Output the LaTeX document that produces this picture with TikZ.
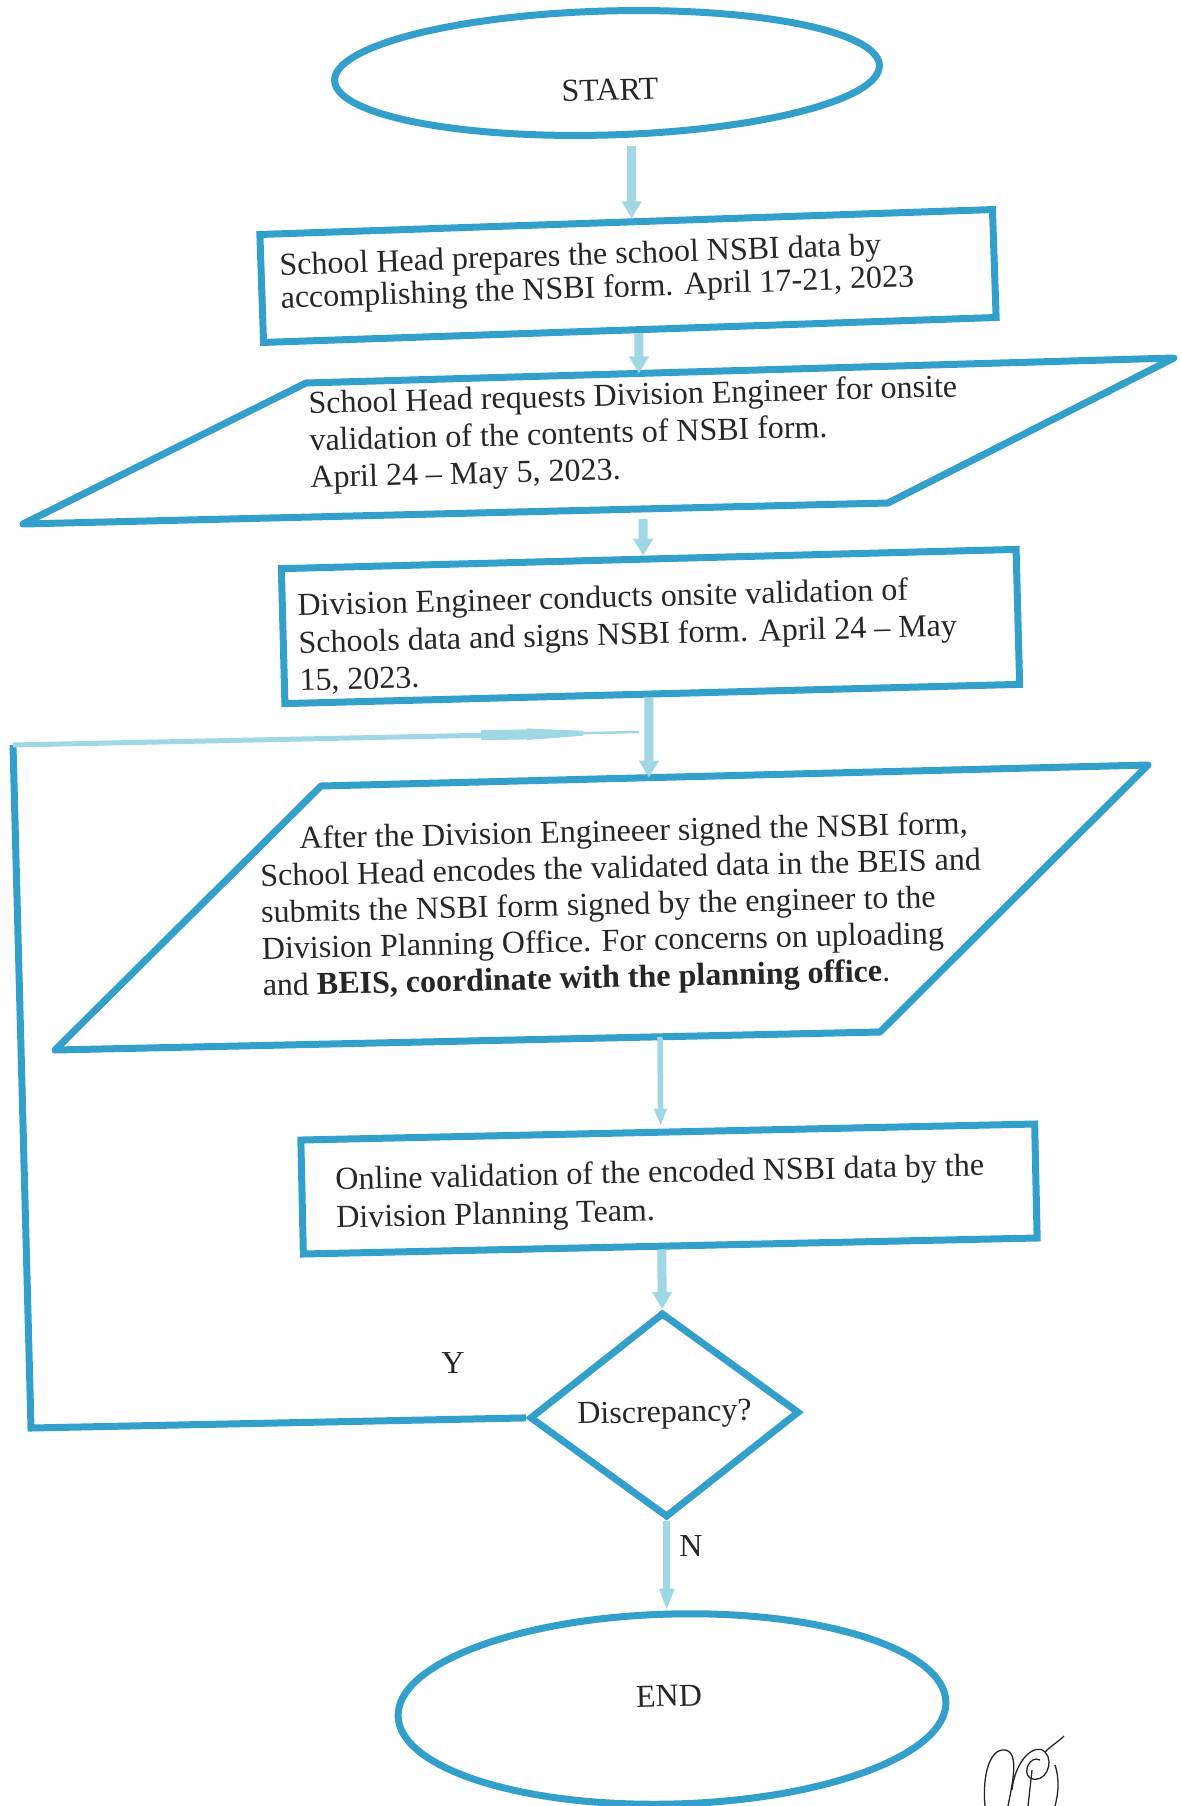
\documentclass[tikz,border=0pt]{standalone}
\usepackage{fontspec}
\setmainfont{Liberation Serif}
\usetikzlibrary{shapes.geometric,arrows.meta,calc}
\definecolor{bordc}{HTML}{33A0CC}
\definecolor{arrc}{HTML}{A0D7E4}
\definecolor{txtc}{HTML}{262626}
\begin{document}
\begin{tikzpicture}[x=1pt,y=-1pt,
  shapeline/.style={draw=bordc, line width=7pt},
  boxnode/.style={shapeline, rectangle, inner sep=0pt},
  txt/.style={text=txtc, font=\fontsize{32}{37}\selectfont, align=left, inner sep=0pt, anchor=north west},
  arr/.style={draw=arrc, line width=9pt, -{Triangle[length=17pt,width=19pt]}},
  thinarr/.style={draw=arrc, line width=5.5pt, -{Triangle[length=17pt,width=12pt]}},
  endarr/.style={draw=arrc, line width=6.5pt, -{Triangle[length=22pt,width=14pt]}},
  fbarr/.style={draw=arrc, line width=5pt, -{Triangle[length=112pt,width=10pt]}},
  fbband/.style={draw=arrc, line width=10pt},
  fbtail/.style={draw=arrc, line width=2.5pt},
  sig/.style={draw=black!85, line width=1.3pt}
]
\useasboundingbox[fill=white] (0,0) rectangle (1182,1806);

% START
\node[shapeline, ellipse, inner sep=0pt, minimum width=545pt, minimum height=124pt, rotate=1.6] (start) at (607,73) {};
\node[txt, anchor=center, rotate=1.6] (starttxt) at (610,90) {START};

% Box 1
\node[boxnode, minimum width=733pt, minimum height=108pt, rotate=1.95] (box1) at (628,276) {};
\node[txt, font=\fontsize{32}{33}\selectfont, rotate=1.95] (box1txt) at (279,253)
  {School Head prepares the school NSBI data by\\accomplishing the NSBI form. April 17-21, 2023};

% Parallelogram 1
\coordinate (p1tl) at (306,383);
\coordinate (p1tr) at (1174,358);
\coordinate (p1br) at (888,503);
\coordinate (p1bl) at (23,524);
\draw[shapeline, line join=round] (p1tl) -- (p1tr) -- (p1br) -- (p1bl) -- cycle;
\node[txt, rotate=1.5] (p1txt) at (308,391)
  {School Head requests Division Engineer for onsite\\validation of the contents of NSBI form.\\April 24 – May 5, 2023.};

% Box 3
\node[boxnode, minimum width=735pt, minimum height=135pt, rotate=1.5] (box3) at (650.5,626.5) {};
\node[txt, font=\fontsize{32}{37.5}\selectfont, rotate=1.5] (box3txt) at (297,593)
  {Division Engineer conducts onsite validation of\\Schools data and signs NSBI form. April 24 – May\\15, 2023.};

% Parallelogram 2
\coordinate (p2tl) at (321,786);
\coordinate (p2tr) at (1148,765);
\coordinate (p2br) at (880,1032);
\coordinate (p2bl) at (55,1050);
\draw[shapeline, line join=round] (p2tl) -- (p2tr) -- (p2br) -- (p2bl) -- cycle;
\node[txt, font=\fontsize{32}{36.5}\selectfont, rotate=1.3] (p2txt) at (259,827)
  {\hspace*{40pt}After the Division Engineeer signed the NSBI form,\\School Head encodes the validated data in the BEIS and\\submits the NSBI form signed by the engineer to the\\Division Planning Office. For concerns on uploading\\and \textbf{BEIS, coordinate with the planning office}.};

% Box 5
\node[boxnode, minimum width=734pt, minimum height=114pt, rotate=1.25] (box5) at (669,1189) {};
\node[txt, font=\fontsize{32}{38}\selectfont, rotate=1.25] (box5txt) at (335,1167)
  {Online validation of the encoded NSBI data by the\\Division Planning Team.};

% Decision
\node[shapeline, diamond, inner sep=0pt, minimum width=270pt, minimum height=205pt, rotate=1.2,
  text=txtc, font=\fontsize{32}{37}\selectfont] (dia) at (664.5,1415) {Discrepancy?};

% END
\node[shapeline, ellipse, inner sep=0pt, minimum width=548pt, minimum height=190pt, rotate=1.5] (end) at (672,1709) {};
\node[txt, anchor=center, rotate=1.5] (endtxt) at (669,1696) {END};

% labels
\node[txt, anchor=center] (ylab) at (453,1363) {Y};
\node[txt, anchor=center] (nlab) at (691,1546) {N};

% connector points
\coordinate (a1e) at ($(box1.north west)!0.5075!(box1.north east)$);
\coordinate (a2s) at ($(box1.south west)!0.512!(box1.south east)$);
\coordinate (p1n) at ($(p1tl)!0.3836!(p1tr)$);
\coordinate (p1s) at ($(p1bl)!0.7168!(p1br)$);
\coordinate (a3e) at ($(box3.north west)!0.4925!(box3.north east)$);
\coordinate (a4s) at ($(box3.south west)!0.4952!(box3.south east)$);
\coordinate (p2n) at ($(p2tl)!0.3966!(p2tr)$);
\coordinate (p2s) at ($(p2bl)!0.7333!(p2br)$);
\coordinate (a5e) at ($(box5.north west)!0.4905!(box5.north east)$);
\coordinate (a6s) at ($(box5.south west)!0.4884!(box5.south east)$);
\coordinate (fbl) at (31,1428);
\coordinate (ftl) at (13,745);
\coordinate (fjoin) at (639,732);

% connectors
\draw[arr, shorten <=8pt] (a1e |- start.south) -- (a1e);
\draw[arr] (a2s) -- (p1n);
\draw[arr, shorten <=10pt] (p1s) -- (a3e);
\draw[arr] (a4s) -- (p2n);
\draw[thinarr, shorten >=3pt] (p2s) -- (a5e);
\draw[arr] (a6s) -- (dia.north);
\draw[endarr] (dia.south) -- (dia.south |- end.north);
\draw[shapeline, line join=miter] (dia.west) -- (fbl) -- (ftl);
\draw[fbtail] ($(ftl)!0.8!(fjoin)$) -- (fjoin);
\draw[fbarr] (ftl) -- (fjoin);
\draw[fbband] ($(ftl)!0.748!(fjoin)$) -- ($(ftl)!0.822!(fjoin)$);

% signature
\draw[sig] (985,1806) .. controls (982,1775) and (990,1748) .. (1005,1750) .. controls (1020,1752) and (1012,1785) .. (1008,1806);
\draw[sig] (1012,1790) .. controls (1015,1760) and (1035,1742) .. (1045,1752) .. controls (1055,1762) and (1045,1785) .. (1030,1778) .. controls (1022,1772) and (1030,1755) .. (1040,1760);
\draw[sig] (1028,1806) -- (1032,1770);
\draw[sig] (1045,1752) .. controls (1052,1745) and (1058,1742) .. (1064,1736);
\draw[sig] (1055,1765) .. controls (1060,1780) and (1058,1795) .. (1055,1806);
\end{tikzpicture}
\end{document}
